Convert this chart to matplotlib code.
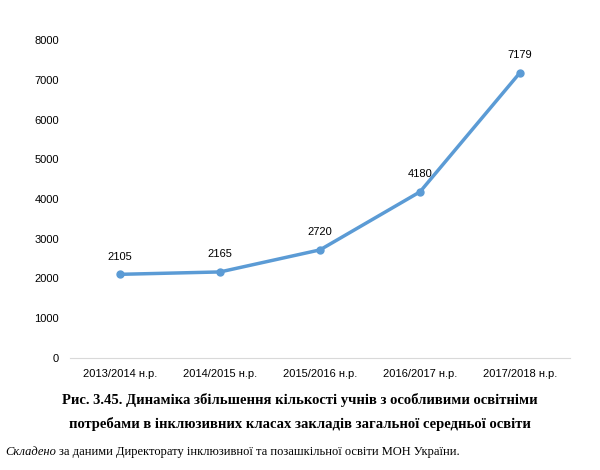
import matplotlib
matplotlib.use("Agg")
import matplotlib.pyplot as plt

categories = ["2013/2014 н.р.", "2014/2015 н.р.", "2015/2016 н.р.", "2016/2017 н.р.", "2017/2018 н.р."]
values = [2105, 2165, 2720, 4180, 7179]
yticks = [0, 1000, 2000, 3000, 4000, 5000, 6000, 7000, 8000]

fig = plt.figure(figsize=(6.0, 4.7), dpi=100)
ax = fig.add_axes([70/600, 1-358/470, 500/600, 318/470])
x = list(range(len(categories)))
ax.plot(x, values, color="#5B9BD5", lw=2.5, marker="o", ms=5)
for xi, v in zip(x, values):
    ax.annotate(str(v), (xi, v), xytext=(0, 9), textcoords="offset points",
                ha="center", va="bottom", fontsize=8, family="Liberation Sans")
ax.set_xlim(-0.5, 4.5)
ax.set_ylim(0, 8000)
ax.set_yticks(yticks)
ax.set_xticks(x)
ax.set_xticklabels(categories, fontsize=8, family="Liberation Sans")
for t in ax.get_yticklabels():
    t.set_fontsize(8); t.set_family("Liberation Sans")
for s in ["top", "right", "left"]:
    ax.spines[s].set_visible(False)
ax.spines["bottom"].set_color("#d9d9d9")
ax.tick_params(axis="both", length=0, pad=8)

fig.text(0.5, 1-400/470, "Рис. 3.45. Динаміка збільшення кількості учнів з особливими освітніми",
         ha="center", va="center", fontsize=10.5, weight="bold", family="Liberation Serif")
fig.text(0.5, 1-424/470, "потребами в інклюзивних класах закладів загальної середньої освіти",
         ha="center", va="center", fontsize=10.5, weight="bold", family="Liberation Serif")
t1 = fig.text(5/600, 1-452/470, "Складено", ha="left", va="center", fontsize=9,
              style="italic", family="Liberation Serif")
fig.canvas.draw()
bb = t1.get_window_extent()
fig.text((bb.x1 + 3)/600, 1-452/470, "за даними Директорату інклюзивної та позашкільної освіти МОН України.",
         ha="left", va="center", fontsize=9, family="Liberation Serif")
fig.savefig("out.png", dpi=100)
